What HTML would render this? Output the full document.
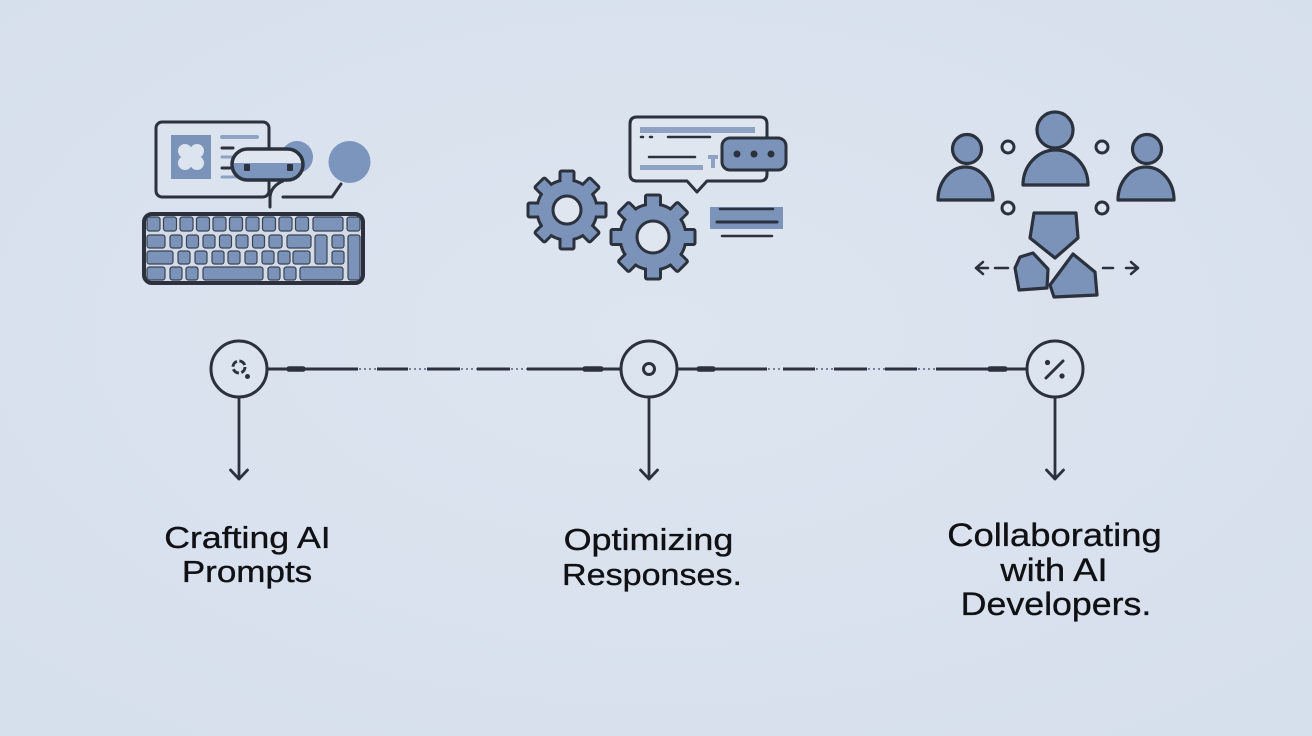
<!DOCTYPE html>
<html><head><meta charset="utf-8"><style>
html,body{margin:0;padding:0;background:#dbe3ef;}
svg{display:block;}
text{font-family:"Liberation Sans",Arial,sans-serif;fill:#0f1114;}
</style></head><body>
<svg width="1312" height="736" viewBox="0 0 1312 736" xmlns="http://www.w3.org/2000/svg">
<defs>
<radialGradient id="bg" cx="50%" cy="45%" r="70%">
<stop offset="0" stop-color="#dde5f0"/><stop offset="1" stop-color="#d6dfec"/>
</radialGradient>
<clipPath id="pill"><rect x="232" y="149" width="71" height="31" rx="15.5"/></clipPath>
</defs>
<rect width="1312" height="736" fill="url(#bg)"/>

<g stroke="#2b323e" stroke-linecap="round" stroke-linejoin="round">
<!-- ICON 1 -->
<rect x="156" y="122" width="113" height="75" rx="6" fill="#dbe3ef" stroke-width="3"/>
<rect x="171" y="135" width="40" height="44" fill="#7b93b8" stroke="none"/>
<g fill="#dbe4ef" stroke="none">
<circle cx="185" cy="151" r="7"/><circle cx="197" cy="151" r="7"/><circle cx="185" cy="163" r="7"/><circle cx="197" cy="163" r="7"/><circle cx="191" cy="157" r="7"/>
</g>
<line x1="222" y1="137" x2="257" y2="137" stroke="#8ea3c4" stroke-width="4"/>
<line x1="222" y1="148" x2="233" y2="148" stroke-width="3"/>
<line x1="222" y1="157" x2="236" y2="157" stroke="#8ea3c4" stroke-width="3"/>
<line x1="222" y1="168" x2="230" y2="168" stroke-width="3"/>
<line x1="222" y1="177" x2="240" y2="177" stroke="#8ea3c4" stroke-width="3"/>
<circle cx="297" cy="157" r="16" fill="#7b95bd" stroke="none"/>
<rect x="232" y="149" width="71" height="31" rx="15.5" fill="#dfe6f0" stroke="none"/>
<rect x="232" y="163" width="71" height="20" fill="#7b95bd" stroke="none" clip-path="url(#pill)"/>
<rect x="232" y="149" width="71" height="31" rx="15.5" fill="none" stroke-width="3.5"/>
<rect x="244" y="164" width="6" height="7" rx="1" fill="#2b323e" stroke="none"/>
<rect x="287" y="164" width="6" height="7" rx="1" fill="#2b323e" stroke="none"/>
<circle cx="349.5" cy="162" r="21" fill="#7b95bd" stroke="none"/>
<path d="M283 181 Q271 186 270 197 L270 207" fill="none" stroke-width="3"/>
<path d="M283 197 L332 197 L341 184" fill="none" stroke-width="3"/>
<!-- keyboard -->
<rect x="144" y="214" width="219" height="69" rx="8" fill="#d3dbe8" stroke-width="4"/>
<g fill="#7b93b8" stroke="#3a4352" stroke-width="1.2">
<rect x="147" y="217" width="13" height="14" rx="2.5"/><rect x="163.5" y="217" width="13" height="14" rx="2.5"/><rect x="180" y="217" width="13" height="14" rx="2.5"/><rect x="196.5" y="217" width="13" height="14" rx="2.5"/><rect x="213" y="217" width="13" height="14" rx="2.5"/><rect x="229.5" y="217" width="13" height="14" rx="2.5"/><rect x="246" y="217" width="13" height="14" rx="2.5"/><rect x="262.5" y="217" width="13" height="14" rx="2.5"/><rect x="279" y="217" width="13" height="14" rx="2.5"/><rect x="295.5" y="217" width="13" height="14" rx="2.5"/><rect x="313" y="217" width="30" height="14" rx="2.5"/><rect x="347" y="217" width="13" height="14" rx="2.5"/>
<rect x="147" y="235" width="18" height="13" rx="2.5"/><rect x="170" y="235" width="12" height="13" rx="2.5"/><rect x="186.5" y="235" width="12" height="13" rx="2.5"/><rect x="203" y="235" width="12" height="13" rx="2.5"/><rect x="219.5" y="235" width="12" height="13" rx="2.5"/><rect x="236" y="235" width="12" height="13" rx="2.5"/><rect x="252.5" y="235" width="12" height="13" rx="2.5"/><rect x="269" y="235" width="13" height="13" rx="2.5"/><rect x="287" y="235" width="24" height="13" rx="2.5"/><rect x="315" y="235" width="12" height="29" rx="2.5"/><rect x="332" y="235" width="12" height="13" rx="2.5"/><rect x="348" y="235" width="12" height="45" rx="2.5"/>
<rect x="147" y="251" width="26" height="13" rx="2.5"/><rect x="178" y="251" width="12" height="13" rx="2.5"/><rect x="195" y="251" width="12" height="13" rx="2.5"/><rect x="212" y="251" width="12" height="13" rx="2.5"/><rect x="228" y="251" width="12" height="13" rx="2.5"/><rect x="245" y="251" width="12" height="13" rx="2.5"/><rect x="262" y="251" width="12" height="13" rx="2.5"/><rect x="278" y="251" width="12" height="13" rx="2.5"/><rect x="293" y="251" width="17" height="13" rx="2.5"/><rect x="332" y="251" width="12" height="13" rx="2.5"/>
<rect x="147" y="267" width="18" height="13" rx="2.5"/><rect x="170" y="267" width="12" height="13" rx="2.5"/><rect x="186" y="267" width="12" height="13" rx="2.5"/><rect x="203" y="267" width="60" height="13" rx="2.5"/><rect x="268" y="267" width="12" height="13" rx="2.5"/><rect x="284" y="267" width="12" height="13" rx="2.5"/><rect x="300" y="267" width="43" height="13" rx="2.5"/>
</g>

<!-- ICON 2 -->
<path d="M637 117 H760 Q767 117 767 124 V174 Q767 181 760 181 H707 L697 192 L687 181 H637 Q630 181 630 174 V124 Q630 117 637 117 Z" fill="#dfe6f0" stroke-width="3"/>
<rect x="640" y="127" width="115" height="6" fill="#8ea3c4" stroke="none"/>
<line x1="641" y1="137" x2="643" y2="137" stroke-width="2.5"/>
<line x1="650" y1="137" x2="652" y2="137" stroke-width="2.5"/>
<line x1="668" y1="137" x2="710" y2="137" stroke-width="2.5"/>
<line x1="649" y1="157" x2="695" y2="157" stroke-width="2.5"/>
<rect x="640" y="165" width="63" height="5" fill="#8ea3c4" stroke="none"/>
<path d="M708 157 H718 M713 157 V168" stroke="#8ea3c4" stroke-width="4" stroke-linecap="butt"/>
<rect x="722" y="138" width="64" height="32" rx="8" fill="#7b93b8" stroke-width="3"/>
<circle cx="737" cy="154" r="3.5" fill="#2b323e" stroke="none"/>
<circle cx="754" cy="154" r="3.5" fill="#2b323e" stroke="none"/>
<circle cx="771" cy="154" r="3.5" fill="#2b323e" stroke="none"/>
<!-- gear 1 -->
<g transform="translate(567,210)">
<g fill="#7b93b8" stroke-width="3" stroke-linejoin="round">
<rect x="-7" y="-39" width="14" height="78" rx="1.5"/>
<rect x="-7" y="-39" width="14" height="78" rx="1.5" transform="rotate(45)"/>
<rect x="-7" y="-39" width="14" height="78" rx="1.5" transform="rotate(90)"/>
<rect x="-7" y="-39" width="14" height="78" rx="1.5" transform="rotate(135)"/>
</g>
<circle r="30" fill="#7b93b8" stroke-width="3"/>
<g fill="#7b93b8" stroke="none">
<rect x="-5.5" y="-37.5" width="11" height="75"/>
<rect x="-5.5" y="-37.5" width="11" height="75" transform="rotate(45)"/>
<rect x="-5.5" y="-37.5" width="11" height="75" transform="rotate(90)"/>
<rect x="-5.5" y="-37.5" width="11" height="75" transform="rotate(135)"/>
</g>
<circle r="14" fill="#dfe6f0" stroke-width="3"/>
</g>
<!-- gear 2 -->
<g transform="translate(653,237)">
<g fill="#7b93b8" stroke-width="3">
<rect x="-7.5" y="-42" width="15" height="84" rx="1.5"/>
<rect x="-7.5" y="-42" width="15" height="84" rx="1.5" transform="rotate(45)"/>
<rect x="-7.5" y="-42" width="15" height="84" rx="1.5" transform="rotate(90)"/>
<rect x="-7.5" y="-42" width="15" height="84" rx="1.5" transform="rotate(135)"/>
</g>
<circle r="33" fill="#7b93b8" stroke-width="3"/>
<g fill="#7b93b8" stroke="none">
<rect x="-6" y="-40.5" width="12" height="81"/>
<rect x="-6" y="-40.5" width="12" height="81" transform="rotate(45)"/>
<rect x="-6" y="-40.5" width="12" height="81" transform="rotate(90)"/>
<rect x="-6" y="-40.5" width="12" height="81" transform="rotate(135)"/>
</g>
<circle r="16" fill="#dfe6f0" stroke-width="3"/>
</g>
<rect x="710" y="207" width="73" height="22" fill="#7b93b8" stroke="none"/>
<line x1="720" y1="209" x2="773" y2="209" stroke-width="2.5"/>
<line x1="717" y1="222" x2="777" y2="222" stroke-width="3"/>
<line x1="722" y1="236" x2="772" y2="236" stroke-width="2.5"/>

<!-- ICON 3 -->
<g fill="#7b93b8" stroke-width="3.2">
<circle cx="1055" cy="130" r="18"/>
<path d="M1023 185 A32.5 35 0 0 1 1088 185 Z"/>
<circle cx="967" cy="149" r="14.5"/>
<path d="M938 200 A27.5 33 0 0 1 993 200 Z"/>
<circle cx="1147" cy="149" r="14.5"/>
<path d="M1118 200 A28 33 0 0 1 1174 200 Z"/>
<path d="M1034 213 H1076 L1078 238 L1055 258 L1030 238 Z"/>
<path d="M1020 257 L1033 253 L1048 269 L1047 288 L1019 290 L1015 268 Z"/>
<path d="M1073 254 L1095 272 L1097 295 L1054 297 L1050 285 Z"/>
</g>
<g fill="#dfe6f0" stroke-width="3">
<circle cx="1008" cy="147" r="6"/><circle cx="1102" cy="147" r="6"/>
<circle cx="1008" cy="208" r="6"/><circle cx="1102" cy="208" r="6"/>
</g>
<g fill="none" stroke-width="2.5">
<path d="M983 262 L976 268 L983 274"/><line x1="976" y1="268" x2="988" y2="268"/><line x1="995" y1="268" x2="1008" y2="268"/>
<path d="M1131 262 L1138 268 L1131 274"/><line x1="1126" y1="268" x2="1138" y2="268"/><line x1="1103" y1="268" x2="1113" y2="268"/>
</g>

<!-- TIMELINE -->
<g fill="none" stroke-width="3" stroke-linecap="butt">
<path d="M267 369 H358 M377 369 H408 M427 369 H460 M477 369 H510 M527 369 H621"/>
<path d="M677 369 H767 M783 369 H815 M834 369 H867 M885 369 H917 M936 369 H1027"/>
</g>
<g stroke-width="5.5" stroke-linecap="round">
<line x1="289" y1="369" x2="303" y2="369"/><line x1="585" y1="369" x2="601" y2="369"/>
<line x1="699" y1="369" x2="713" y2="369"/><line x1="990" y1="369" x2="1005" y2="369"/>
</g>
<g stroke="#56607a" stroke-width="1.6" stroke-dasharray="2 3" stroke-linecap="butt">
<path d="M359 369 H377 M409 369 H427 M461 369 H477 M511 369 H527"/>
<path d="M768 369 H783 M816 369 H834 M868 369 H885 M918 369 H936"/>
</g>
<g fill="#dce4ef" stroke-width="3">
<circle cx="239" cy="369" r="28"/><circle cx="649" cy="369" r="28"/><circle cx="1055" cy="369" r="28"/>
</g>
<circle cx="239" cy="367" r="6" fill="none" stroke-width="3" stroke-dasharray="7 2.5" stroke-linecap="butt"/>
<circle cx="247.5" cy="376.5" r="2.5" fill="#2b323e" stroke="none"/>
<circle cx="649" cy="369" r="5.5" fill="none" stroke-width="3"/>
<line x1="1046" y1="378" x2="1063" y2="361" stroke-width="3"/>
<circle cx="1047.5" cy="362.5" r="2.6" fill="#2b323e" stroke="none"/>
<circle cx="1062" cy="376" r="2.6" fill="#2b323e" stroke="none"/>
<g fill="none" stroke-width="2.8">
<line x1="239" y1="397" x2="239" y2="479"/><path d="M230.5 470 L239 479 L247.5 470"/>
<line x1="649" y1="397" x2="649" y2="479"/><path d="M640.5 470 L649 479 L657.5 470"/>
<line x1="1055" y1="397" x2="1055" y2="479"/><path d="M1046.5 470 L1055 479 L1063.5 470"/>
</g>
</g>

<!-- LABELS -->
<g font-size="31" text-anchor="middle" stroke="#0f1114" stroke-width="0.35">
<text transform="translate(247.5,548) scale(1.15,1)">Crafting AI</text>
<text transform="translate(247,582) scale(1.13,1)">Prompts</text>
<text transform="translate(648.5,550) scale(1.16,1)">Optimizing</text>
<text transform="translate(652,585) scale(1.1,1)">Responses.</text>
</g>
<g font-size="32.5" text-anchor="middle" stroke="#0f1114" stroke-width="0.35">
<text transform="translate(1054.5,546) scale(1.12,1)">Collaborating</text>
<text transform="translate(1054,581) scale(1.12,1)">with AI</text>
<text transform="translate(1056,615) scale(1.1,1)">Developers.</text>
</g>
</svg>
</body></html>
